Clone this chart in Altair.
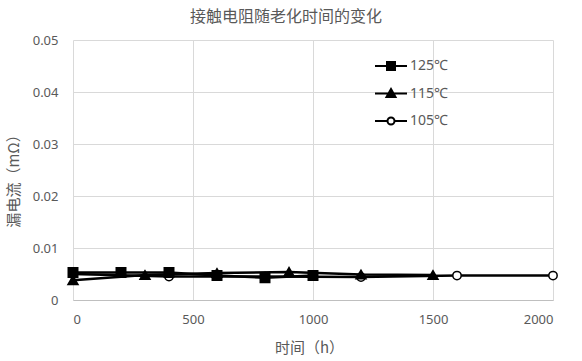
import altair as alt
import pandas as pd

series_names = ["125℃", "115℃", "105℃"]
t125 = [0, 200, 400, 600, 800, 1000]
v125 = [0.0053, 0.0053, 0.0053, 0.0047, 0.0043, 0.0047]
t115 = [0, 300, 600, 900, 1200, 1500]
v115 = [0.0038, 0.0048, 0.0052, 0.0054, 0.0049, 0.0048]
t105 = [0, 400, 800, 1200, 1600, 2000]
v105 = [0.0050, 0.0045, 0.0045, 0.0044, 0.0047, 0.0047]

rows = []
for name, ts, vs in [("125℃", t125, v125), ("115℃", t115, v115), ("105℃", t105, v105)]:
    for t, v in zip(ts, vs):
        rows.append({"series": name, "t": t, "v": v})
df = pd.DataFrame(rows)

GRAY = "#595959"
GRID = "#d9d9d9"
FONT = "Noto Sans"
CJK = "Noto Sans CJK SC"

x = alt.X("t:Q", scale=alt.Scale(domain=[0, 2000], nice=False),
          axis=alt.Axis(values=[0, 500, 1000, 1500, 2000], format="d", title="时间（h）",
                        titleX=236, titleY=47, titleBaseline="middle"))
y = alt.Y("v:Q", scale=alt.Scale(domain=[0, 0.05], nice=False),
          axis=alt.Axis(values=[0, 0.01, 0.02, 0.03, 0.04, 0.05],
                        labelExpr="datum.value == 0 ? '0' : format(datum.value, '.2f')",
                        title="漏电流（mΩ）", titleX=-60, titleY=137,
                        titleAngle=-90, titleBaseline="middle", titleAlign="center"))

base = alt.Chart(df)

def series_layers(name, shape, filled, size, fill):
    d = base.transform_filter(alt.datum.series == name)
    line = d.mark_line(color="black", strokeWidth=2.5, strokeJoin="round").encode(x=x, y=y)
    pts = d.mark_point(shape=shape, filled=filled, size=size, fill=fill,
                       stroke="black", strokeWidth=1.5, opacity=1).encode(x="t:Q", y="v:Q")
    return [line, pts]

layers = []
layers += series_layers("105℃", "circle", False, 70, "white")
layers += series_layers("115℃", "triangle-up", True, 100, "black")
layers += series_layers("125℃", "square", True, 90, "black")

paths = [
    "M-1.6,0H1.6M-0.4,-0.4H0.4V0.4H-0.4Z",
    "M-1.6,0H1.6M0,-0.45L0.45,0.35H-0.45Z",
    "M-1.6,0H-0.35M0.35,0H1.6M-0.35,0A0.35,0.35 0 1,0 0.35,0A0.35,0.35 0 1,0 -0.35,0Z",
]
leg = alt.Legend(title=None, orient="none", legendX=307, legendY=15,
                 symbolSize=400, symbolStrokeWidth=2, symbolStrokeColor="black",
                 symbolOpacity=1, labelOffset=8, rowPadding=8.5,
                 labelFont=FONT, labelFontSize=14, labelColor=GRAY)
legend_layer = base.mark_point(opacity=0).encode(
    x="t:Q", y="v:Q",
    shape=alt.Shape("series:N", scale=alt.Scale(domain=series_names, range=paths), legend=leg),
    fill=alt.Fill("series:N", scale=alt.Scale(domain=series_names, range=["black", "black", "white"]), legend=leg),
    stroke=alt.Stroke("series:N", scale=alt.Scale(domain=series_names, range=["black", "black", "black"]), legend=leg),
)
layers.append(legend_layer)

chart = alt.layer(*layers).properties(
    width=480, height=260,
    autosize=alt.AutoSizeParams(type="none"),
    padding={"left": 73, "top": 40, "right": 29, "bottom": 61},
    title=alt.TitleParams("接触电阻随老化时间的变化", font=CJK, fontSize=16, fontWeight="normal",
                          color=GRAY, offset=9, dx=-27, anchor="middle"),
).configure_view(stroke=None).configure_axis(
    grid=True, gridColor=GRID, gridWidth=1, domainColor="#bfbfbf", ticks=False,
    labelFont=FONT, labelFontSize=13, labelColor=GRAY, labelPadding=13,
    titleFont=CJK, titleFontSize=15, titleFontWeight="normal", titleColor=GRAY,
).configure_axisY(domain=False, labelPadding=15)

chart.save("out.html", embed_options={"renderer": "svg", "actions": False})
